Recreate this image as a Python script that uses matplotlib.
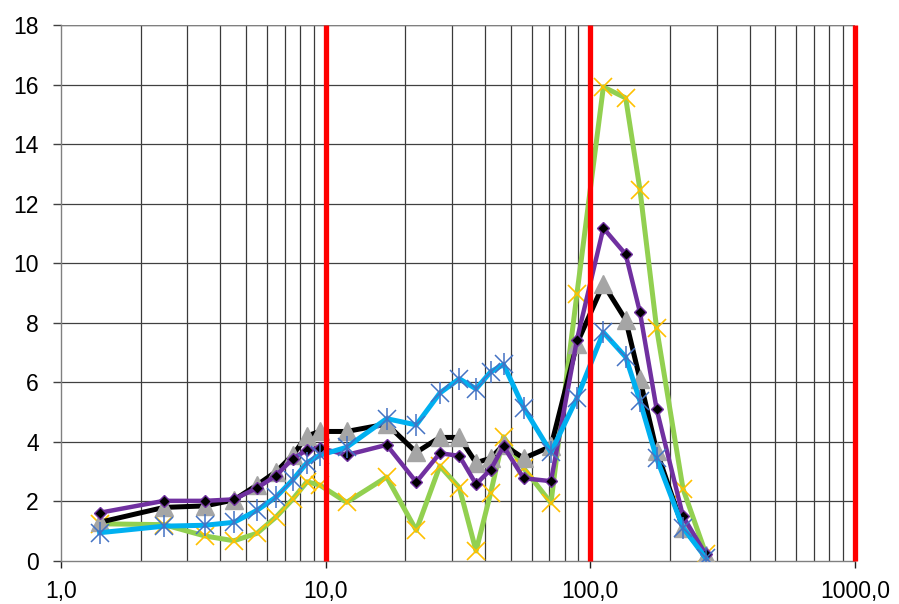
import matplotlib
matplotlib.use("Agg")
import matplotlib.pyplot as plt
from matplotlib.ticker import FixedLocator, FixedFormatter, NullLocator

plt.rcParams['font.family'] = ['Liberation Sans', 'DejaVu Sans']

x = [1.4, 2.45, 3.5, 4.5, 5.5, 6.5, 7.5, 8.5, 9.5, 12, 17, 22, 27, 32, 37, 42, 47,
     56, 71, 89, 112, 136, 154, 178, 224, 273]

black_s = [1.3, 1.8, 1.85, 2.05, 2.55, 3.0, 3.55, 4.2, 4.35, 4.35, 4.6, 3.65, 4.15, 4.15,
           3.3, 3.45, 3.9, 3.45, 3.85, 7.3, 9.3, 8.1, 6.1, 3.7, 1.1, 0.2]
purple_s = [1.62, 2.02, 2.02, 2.07, 2.45, 2.87, 3.43, 3.73, 3.8, 3.56, 3.9, 2.65, 3.62, 3.53,
            2.58, 3.07, 3.85, 2.78, 2.68, 7.43, 11.18, 10.3, 8.35, 5.1, 1.5, 0.22]
blue_s = [0.95, 1.17, 1.2, 1.3, 1.7, 2.15, 2.72, 3.3, 3.55, 3.82, 4.78, 4.57, 5.64, 6.12,
          5.78, 6.35, 6.6, 5.15, 3.65, 5.47, 7.68, 6.85, 5.37, 3.45, 1.12, 0.1]
green_s = [1.25, 1.22, 0.84, 0.68, 0.93, 1.48, 2.07, 2.66, 2.55, 1.97, 2.82, 1.03, 3.19, 2.46,
           0.34, 2.28, 4.17, 3.12, 1.95, 8.97, 15.92, 15.55, 12.47, 7.82, 2.42, 0.25]

red_x = [10, 100, 1000]
xtick_vals = [1, 10, 100, 1000]
xtick_labels = ["1,0", "10,0", "100,0", "1000,0"]
ytick_vals = list(range(0, 19, 2))

fig = plt.figure(figsize=(8.99, 6.04), dpi=100)
ax = fig.add_axes([61 / 899, 43 / 604, (855 - 61) / 899, (561 - 25) / 604])
ax.set_xscale('log')
ax.set_xlim(1, 1000)
ax.set_ylim(0, 18)

# grid
minor = [m * 10 ** d for d in range(0, 3) for m in range(2, 10)]
for v in minor + [10, 100]:
    ax.axvline(v, color='#3a3a3a', lw=0.9, zorder=1)
for v in ytick_vals[1:]:
    ax.axhline(v, color='#404040', lw=0.9, zorder=1)

# series
ax.plot(x, green_s, color='#92D050', lw=3.6, zorder=3)
ax.plot(x, green_s, ls='none', marker='x', ms=13, mew=1.2, color='#FFC000', zorder=3.1)

ax.plot(x, black_s, color='#000000', lw=3.6, zorder=4)
ax.plot(x, black_s, ls='none', marker='^', ms=13, color='#A5A5A5', mec='#A5A5A5', zorder=4.1)

ax.plot(x, purple_s, color='#7030A0', lw=3.2, zorder=5)
ax.plot(x, purple_s, ls='none', marker='D', ms=6.5, mfc='#000000', mec='#7030A0', mew=1.0, zorder=5.1)

ax.plot(x, blue_s, color='#00B0F0', lw=3.6, zorder=6)
ax.plot(x, blue_s, ls='none', marker='x', ms=13, mew=1.1, color='#4472C4', zorder=6.1)
ax.plot(x, blue_s, ls='none', marker='|', ms=16, mew=1.1, color='#4472C4', zorder=6.1)

for v in red_x:
    ax.plot([v, v], [0, 18], color='#FF0000', lw=3.8, zorder=7, solid_capstyle='butt',
            clip_on=False)

# axes styling
for s in ['top', 'right']:
    ax.spines[s].set_visible(False)
for s in ['left', 'bottom']:
    ax.spines[s].set_color('#808080')
    ax.spines[s].set_linewidth(1.0)
ax.axhline(18, color='#808080', lw=1.0, zorder=1)

ax.xaxis.set_major_locator(FixedLocator(xtick_vals))
ax.xaxis.set_major_formatter(FixedFormatter(xtick_labels))
ax.xaxis.set_minor_locator(NullLocator())
ax.set_yticks(ytick_vals)
ax.set_yticklabels([str(v) for v in ytick_vals])
ax.tick_params(axis='x', direction='out', length=5, width=1, color='#202020',
               labelsize=16.5, pad=9)
ax.tick_params(axis='y', direction='out', length=6, width=1, color='#404040',
               labelsize=16.5, pad=10)

fig.savefig('out.png', dpi=100)
